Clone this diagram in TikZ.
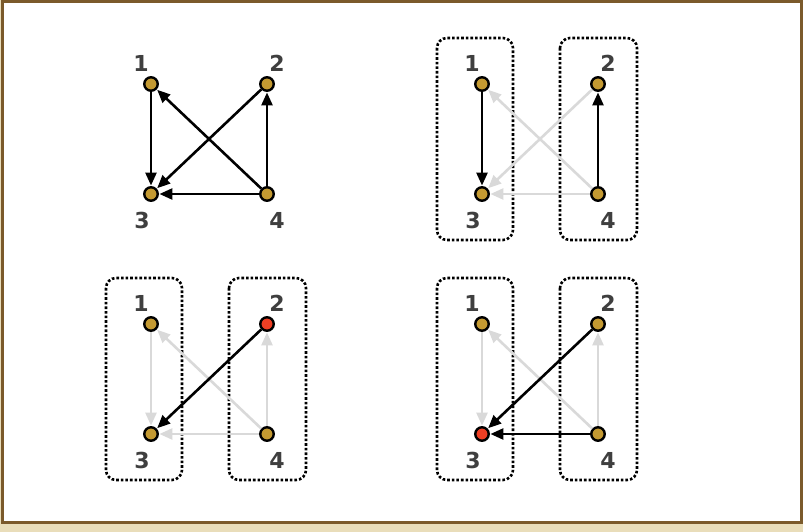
\documentclass[tikz,border=0pt]{standalone}
\usepackage{fontspec}
\setmainfont{DejaVu Sans}
\usepackage{tikz}
\usetikzlibrary{arrows.meta, calc}
\definecolor{stGold}{HTML}{C49A32}
\definecolor{stRed}{HTML}{EE3F24}
\definecolor{stFade}{HTML}{D9D9D9}
\definecolor{stInk}{HTML}{3F3F3F}
\definecolor{stBrown}{HTML}{7B5A2B}
\definecolor{stSand}{HTML}{E9DDBA}

\begin{document}
\begin{tikzpicture}[x=1pt, y=-1pt,
  vtx/.style={circle, draw=black, line width=2.4pt, minimum size=13.5pt, inner sep=0pt},
  num/.style={font=\bfseries\fontsize{22}{22}\selectfont, text=stInk, inner sep=0pt},
  arr/.style={-{Triangle[length=13pt, width=11pt]}, line width=2.6pt, black, shorten >=0.5pt},
  faded/.style={arr, draw=stFade},
  grp/.style={draw=black, dotted, line width=2.6pt, rounded corners=10pt}]
% frame
\fill[stSand] (0,0) rectangle (803,532);
\draw[stBrown, line width=3pt, fill=white] (2,1.5) rectangle (801.5,522.5);
\useasboundingbox (0,0) rectangle (803,532);
% four copies of the graph, \h = vertex shown in red
\foreach \g/\x/\y/\h in {a/151/84/0, b/482/84/0, c/151/324/2, d/482/324/3}{
  \foreach \i/\dx/\dy/\lx/\ly in {1/0/0/-10/-21, 2/116/0/10/-21, 3/0/110/-9/26, 4/116/110/10/26}{
    \ifnum\i=\h \def\fc{stRed}\else \def\fc{stGold}\fi
    \node[vtx, fill=\fc] (\g\i) at (\x+\dx,\y+\dy) {};
    \node[num] (\g\i l) at ([shift={(\lx,\ly)}]\g\i) {\i};
  }
}
\foreach \g in {b,c,d}{
  \draw[grp] ([shift={(-45,-46)}]\g1) rectangle ([shift={(31,46)}]\g3);
  \draw[grp] ([shift={(-38,-46)}]\g2) rectangle ([shift={(39,46)}]\g4);
}
% edges
\foreach \s/\t in {1/3,4/2,2/3,4/1,4/3} \draw[arr] (a\s) -- (a\t);
\foreach \s/\t in {2/3,4/1,4/3} \draw[faded] (b\s) -- (b\t);
\foreach \s/\t in {1/3,4/2} \draw[arr] (b\s) -- (b\t);
\foreach \s/\t in {1/3,4/2,4/1,4/3} \draw[faded] (c\s) -- (c\t);
\draw[arr] (c2) -- (c3);
\foreach \s/\t in {1/3,4/2,4/1} \draw[faded] (d\s) -- (d\t);
\foreach \s/\t in {2/3,4/3} \draw[arr] (d\s) -- (d\t);
\end{tikzpicture}
\end{document}
